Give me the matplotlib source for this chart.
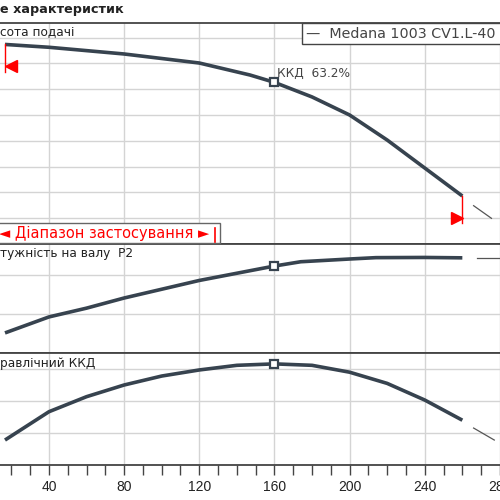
import matplotlib
matplotlib.use("Agg")
import matplotlib.pyplot as plt
import matplotlib.transforms as mtransforms
from matplotlib.patches import Rectangle

# ---- data ----
q_head = [16.6, 40, 80, 120, 147, 160, 180, 200, 220, 240, 260]
head = [15.47, 15.25, 14.73, 14.03, 13.1, 12.53, 11.4, 10.0, 8.06, 5.89, 3.72]
q_head_ext = [266, 275.5]
head_ext = [2.97, 1.99]

q_pow = [16.6, 40, 60, 80, 120, 147, 160, 174, 200, 214, 240, 260]
power = [1.03, 1.85, 2.3, 2.82, 3.72, 4.22, 4.46, 4.68, 4.82, 4.89, 4.9, 4.88]
q_pow_ext = [268, 292]
power_ext = [4.87, 4.87]

q_eff = [16.6, 40, 60, 80, 100, 120, 140, 160, 180, 200, 220, 240, 260]
eff = [15.6, 33.3, 42.7, 50.0, 55.6, 59.4, 62.3, 63.2, 62.3, 58.0, 51.0, 40.6, 28.0]
q_eff_ext = [266, 277]
eff_ext = [23.1, 15.6]

bep_q = 160
bep_eff = 63.2
range_q = [16.6, 260]

x_ticks = [40, 80, 120, 160, 200, 240, 280]
title_text = "е характеристик"
label_head = "сота подачі"
label_power = "тужність на валу  P2"
label_eff = "равлічний ККД"
legend_text = "—  Medana 1003 CV1.L-40"
range_text = "◄ Діапазон застосування ►"

# ---- layout ----
W = H = 500
fig = plt.figure(figsize=(5, 5), dpi=100)
x0_px = -26.2
px_per_q = 1.879
xmax = 290
left = x0_px / W
width = xmax * px_per_q / W

def fy(px):
    return 1 - px / H

ax_h = fig.add_axes([left, fy(244), width, (244 - 23) / H])
ax_p = fig.add_axes([left, fy(353), width, (353 - 244) / H])
ax_e = fig.add_axes([left, fy(465), width, (465 - 353) / H])

line_c = "#37434f"
grid_c = "#d4d4d4"
spine_c = "#444444"

for ax in (ax_h, ax_p, ax_e):
    ax.set_xlim(0, xmax)
    ax.set_xticks(x_ticks)
    ax.grid(True, color=grid_c, lw=1.0)
    ax.set_axisbelow(True)
    for s in ("left", "right"):
        ax.spines[s].set_visible(False)
    for s in ("top", "bottom"):
        ax.spines[s].set_color(spine_c)
        ax.spines[s].set_linewidth(1.3)
    ax.tick_params(axis="y", left=False, labelleft=False)

ax_h.set_ylim(0, (244 - 23) / 12.9)
ax_h.set_yticks([0, 2, 4, 6, 8, 10, 12, 14, 16])
ax_p.set_ylim(0, 109 / 19.5)
ax_p.set_yticks([0, 2, 4])
ax_e.set_ylim(0, 70)
ax_e.set_yticks([0, 20, 40, 60])

for ax in (ax_h, ax_p):
    ax.tick_params(axis="x", bottom=False, labelbottom=False)

ax_e.set_xticks(list(range(0, 300, 10)), minor=True)
ax_e.tick_params(axis="x", which="both", direction="out", length=7,
                 width=1.0, color=spine_c, labelsize=10, labelcolor="#222222", pad=4)
for lab in ax_e.get_xticklabels():
    lab.set_family("Liberation Sans")

lw_main = 2.6
ax_h.plot(q_head, head, color=line_c, lw=lw_main, solid_capstyle="butt")
ax_h.plot(q_head_ext, head_ext, color="#555555", lw=0.9)
ax_p.plot(q_pow, power, color=line_c, lw=lw_main, solid_capstyle="butt")
ax_p.plot(q_pow_ext, power_ext, color="#555555", lw=0.9)
ax_e.plot(q_eff, eff, color=line_c, lw=lw_main, solid_capstyle="butt")
ax_e.plot(q_eff_ext, eff_ext, color="#555555", lw=0.9)

mk = dict(marker="s", ms=6, mfc="white", mec=line_c, mew=1.6, ls="none", zorder=5)
ax_h.plot([bep_q], [head[q_head.index(bep_q)]], **mk)
ax_p.plot([bep_q], [power[q_pow.index(bep_q)]], **mk)
ax_e.plot([bep_q], [bep_eff], **mk)

ax_h.annotate(f"ККД  {bep_eff}%", xy=(bep_q, head[q_head.index(bep_q)]),
              xytext=(1.5, 2), textcoords="offset points", fontsize=8.7,
              color="#444444", ha="left", va="bottom")

# operating range red markers
h_start = head[0]
h_end = head[-1]
ax_h.plot([range_q[0], range_q[0]], [h_start, h_start - 2.1], color="red", lw=1.0)
ax_h.plot([range_q[1], range_q[1]], [h_end, h_end - 2.1], color="red", lw=1.0)
tr_l = mtransforms.offset_copy(ax_h.transData, fig=fig, x=4, y=0, units="points")
tr_r = mtransforms.offset_copy(ax_h.transData, fig=fig, x=-4, y=0, units="points")
ax_h.plot([range_q[0]], [h_start - 1.68], marker="<", ms=8, color="red",
          transform=tr_l, ls="none")
ax_h.plot([range_q[1]], [h_end - 1.7], marker=">", ms=8, color="red",
          transform=tr_r, ls="none")

# title and labels
fig.text(0 / W, fy(10), title_text, fontsize=9.2, fontweight="bold",
         color="#222222", ha="left", va="center")
fig.text(0, fy(33), label_head, fontsize=8.7, color="#222222", ha="left", va="center")
fig.text(0, fy(254), label_power, fontsize=8.7, color="#222222", ha="left", va="center")
fig.text(0, fy(363), label_eff, fontsize=8.7, color="#222222", ha="left", va="center")

# legend box
fig.patches.append(Rectangle((302 / W, fy(44)), 220 / W, 21 / H, transform=fig.transFigure,
                             facecolor="white", edgecolor=spine_c, lw=1.0, zorder=10))
fig.text(306 / W, fy(34), legend_text, fontsize=10.3, color="#444444",
         ha="left", va="center", zorder=11)

# range box
fig.patches.append(Rectangle((-10 / W, fy(243)), 230 / W, 20 / H, transform=fig.transFigure,
                             facecolor="white", edgecolor="#666666", lw=1.0, zorder=10))
fig.text(-1 / W, fy(233), range_text, fontsize=10.5, color="#ff0000",
         ha="left", va="center", zorder=11)
fig.lines.append(plt.Line2D([215 / W, 215 / W], [fy(242), fy(228)], transform=fig.transFigure,
                            color="red", lw=1.2, zorder=11))

fig.savefig("out.png", dpi=100)
